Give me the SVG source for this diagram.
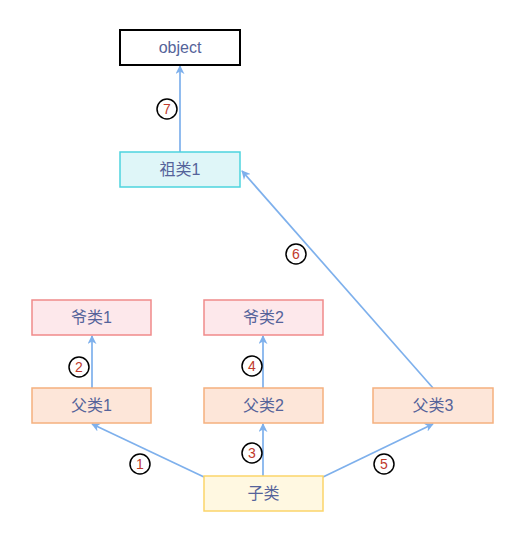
<svg xmlns="http://www.w3.org/2000/svg" width="524" height="542" viewBox="0 0 524 542">
<style>
.t{font-family:"Liberation Sans","Noto Sans CJK SC",sans-serif;font-size:16px;fill:#55639a;text-anchor:middle;dominant-baseline:central}
.e{stroke:#7eb0ec;stroke-width:1.7;fill:none}
.lc{fill:#fff;stroke:#000;stroke-width:1.5}
.lt{font-family:"Liberation Sans",sans-serif;font-size:14px;fill:#c0392b;text-anchor:middle;dominant-baseline:central}
.red{fill:#fde8eb;stroke:#f08a8a;stroke-width:1.5}
.org{fill:#fde6d9;stroke:#f5b07e;stroke-width:1.5}
</style>
<defs>
<marker id="a" viewBox="0 0 10 10" refX="9" refY="5" markerWidth="9" markerHeight="9" orient="auto" markerUnits="userSpaceOnUse">
<path d="M0,0 L10,5 L0,10 L3,5 z" fill="#7eb0ec"/>
</marker>
</defs>
<rect width="524" height="542" fill="#fff"/>
<g id="edges">
<line class="e" x1="180" y1="152" x2="180" y2="66" marker-end="url(#a)"/>
<line class="e" x1="433" y1="388" x2="242" y2="171" marker-end="url(#a)"/>
<line class="e" x1="204" y1="477" x2="92" y2="424" marker-end="url(#a)"/>
<line class="e" x1="92" y1="388" x2="92" y2="336" marker-end="url(#a)"/>
<line class="e" x1="263" y1="476" x2="263" y2="424" marker-end="url(#a)"/>
<line class="e" x1="263" y1="388" x2="263" y2="336" marker-end="url(#a)"/>
<line class="e" x1="323" y1="477" x2="433" y2="424" marker-end="url(#a)"/>
<g id="labels">
<circle class="lc" cx="167" cy="109" r="10"/><text class="lt" x="167" y="109">7</text>
<circle class="lc" cx="296" cy="254" r="10"/><text class="lt" x="296" y="254">6</text>
<circle class="lc" cx="140" cy="464" r="10"/><text class="lt" x="140" y="464">1</text>
<circle class="lc" cx="79" cy="367" r="10"/><text class="lt" x="79" y="367">2</text>
<circle class="lc" cx="252" cy="453" r="10"/><text class="lt" x="252" y="453">3</text>
<circle class="lc" cx="252" cy="366" r="10"/><text class="lt" x="252" y="366">4</text>
<circle class="lc" cx="384" cy="464" r="10"/><text class="lt" x="384" y="464">5</text>
</g>
</g>
<g id="object"><rect x="120" y="30" width="120" height="35" fill="#fff" stroke="#000" stroke-width="2"/><text class="t" x="180" y="47.5">object</text></g>
<g id="zulei1"><rect x="120" y="152" width="120" height="35" fill="#dff6f8" stroke="#4dd4de" stroke-width="1.5"/><text class="t" x="180" y="169.5">祖类1</text></g>
<g id="yelei1"><rect class="red" x="32" y="300" width="119" height="35"/><text class="t" x="91.5" y="317.5">爷类1</text></g>
<g id="yelei2"><rect class="red" x="204" y="300" width="119" height="35"/><text class="t" x="263.5" y="317.5">爷类2</text></g>
<g id="fulei1"><rect class="org" x="32" y="388" width="119" height="35"/><text class="t" x="91.5" y="405.5">父类1</text></g>
<g id="fulei2"><rect class="org" x="204" y="388" width="119" height="35"/><text class="t" x="263.5" y="405.5">父类2</text></g>
<g id="fulei3"><rect class="org" x="373" y="388" width="120" height="35"/><text class="t" x="433" y="405.5">父类3</text></g>
<g id="zilei"><rect x="204" y="476" width="119" height="35" fill="#fff8e1" stroke="#fbd56a" stroke-width="1.5"/><text class="t" x="263.5" y="493.5">子类</text></g>
</svg>
